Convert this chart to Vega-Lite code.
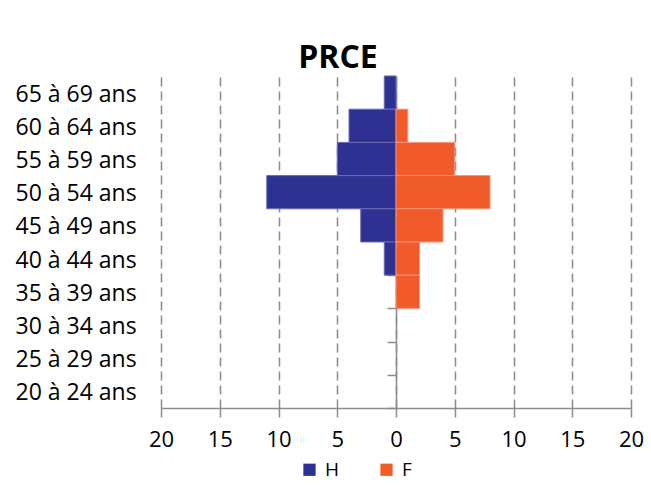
{
  "$schema": "https://vega.github.io/schema/vega-lite/v6.json",
  "width": 470,
  "height": 332,
  "autosize": {"type": "none"},
  "padding": {"left": 161, "top": 76, "right": 20, "bottom": 78},
  "background": "white",
  "title": {"text": "PRCE", "font": "Open Sans", "fontSize": 32, "fontWeight": "bold", "color": "#000000", "anchor": "middle", "dx": -58, "dy": 33, "offset": 8, "baseline": "alphabetic"},
  "data": {"values": [
    {"age": "65 à 69 ans", "sexe": "H", "n": -1},
    {"age": "65 à 69 ans", "sexe": "F", "n": 0},
    {"age": "60 à 64 ans", "sexe": "H", "n": -4},
    {"age": "60 à 64 ans", "sexe": "F", "n": 1},
    {"age": "55 à 59 ans", "sexe": "H", "n": -5},
    {"age": "55 à 59 ans", "sexe": "F", "n": 5},
    {"age": "50 à 54 ans", "sexe": "H", "n": -11},
    {"age": "50 à 54 ans", "sexe": "F", "n": 8},
    {"age": "45 à 49 ans", "sexe": "H", "n": -3},
    {"age": "45 à 49 ans", "sexe": "F", "n": 4},
    {"age": "40 à 44 ans", "sexe": "H", "n": -1},
    {"age": "40 à 44 ans", "sexe": "F", "n": 2},
    {"age": "35 à 39 ans", "sexe": "H", "n": 0},
    {"age": "35 à 39 ans", "sexe": "F", "n": 2},
    {"age": "30 à 34 ans", "sexe": "H", "n": 0},
    {"age": "30 à 34 ans", "sexe": "F", "n": 0},
    {"age": "25 à 29 ans", "sexe": "H", "n": 0},
    {"age": "25 à 29 ans", "sexe": "F", "n": 0},
    {"age": "20 à 24 ans", "sexe": "H", "n": 0},
    {"age": "20 à 24 ans", "sexe": "F", "n": 0}
  ]},
  "layer": [
    {
      "transform": [{"filter": "datum.n != 0"}],
      "mark": {"type": "bar", "strokeWidth": 1},
      "encoding": {
        "y": {
          "field": "age", "type": "nominal",
          "scale": {"domain": ["65 à 69 ans", "60 à 64 ans", "55 à 59 ans", "50 à 54 ans", "45 à 49 ans", "40 à 44 ans", "35 à 39 ans", "30 à 34 ans", "25 à 29 ans", "20 à 24 ans"], "paddingInner": 0, "paddingOuter": 0},
          "axis": {"title": null, "domain": false, "ticks": false, "grid": false, "labelAlign": "left", "labelPadding": 146, "labelFontSize": 23, "labelFont": "Open Sans", "labelColor": "#000000", "labelOffset": 2}
        },
        "x": {
          "field": "n", "type": "quantitative", "stack": null,
          "scale": {"domain": [-20, 20], "nice": false},
          "axis": {"title": null, "values": [-20, -15, -10, -5, 0, 5, 10, 15, 20], "labelExpr": "abs(datum.value)", "grid": true, "gridDash": [9, 5], "gridColor": "#8c8c8c", "gridWidth": 1.5, "domainColor": "#8c8c8c", "domainWidth": 1.5, "tickColor": "#8c8c8c", "tickSize": 9, "tickWidth": 1.5, "labelFontSize": 22, "labelFont": "Open Sans", "labelColor": "#000000", "labelPadding": 12, "labelFlush": false}
        },
        "color": {
          "field": "sexe", "type": "nominal",
          "scale": {"domain": ["H", "F"], "range": ["#2e3192", "#f15a29"]},
          "legend": {"title": null, "orient": "none", "legendX": 139, "legendY": 384, "direction": "horizontal", "symbolType": "square", "symbolSize": 150, "symbolStrokeWidth": 0, "labelFontSize": 19, "labelFont": "Open Sans", "labelColor": "#000000", "columnPadding": 37, "labelOffset": 6}
        },
        "stroke": {
          "field": "sexe", "type": "nominal",
          "scale": {"domain": ["H", "F"], "range": ["#6a6cb5", "#f6957a"]},
          "legend": null
        }
      }
    },
    {
      "mark": {"type": "point", "opacity": 0},
      "encoding": {
        "y": {
          "field": "age", "type": "nominal",
          "axis": {"orient": "left", "offset": -235, "labels": false, "title": null, "domain": true, "domainColor": "#8c8c8c", "domainWidth": 1.5, "ticks": true, "tickBand": "extent", "tickColor": "#8c8c8c", "tickSize": 9, "tickWidth": 1.5, "grid": false}
        },
        "x": {"field": "n", "type": "quantitative", "stack": null}
      }
    }
  ],
  "resolve": {"axis": {"y": "independent"}},
  "config": {"view": {"stroke": null}}
}
